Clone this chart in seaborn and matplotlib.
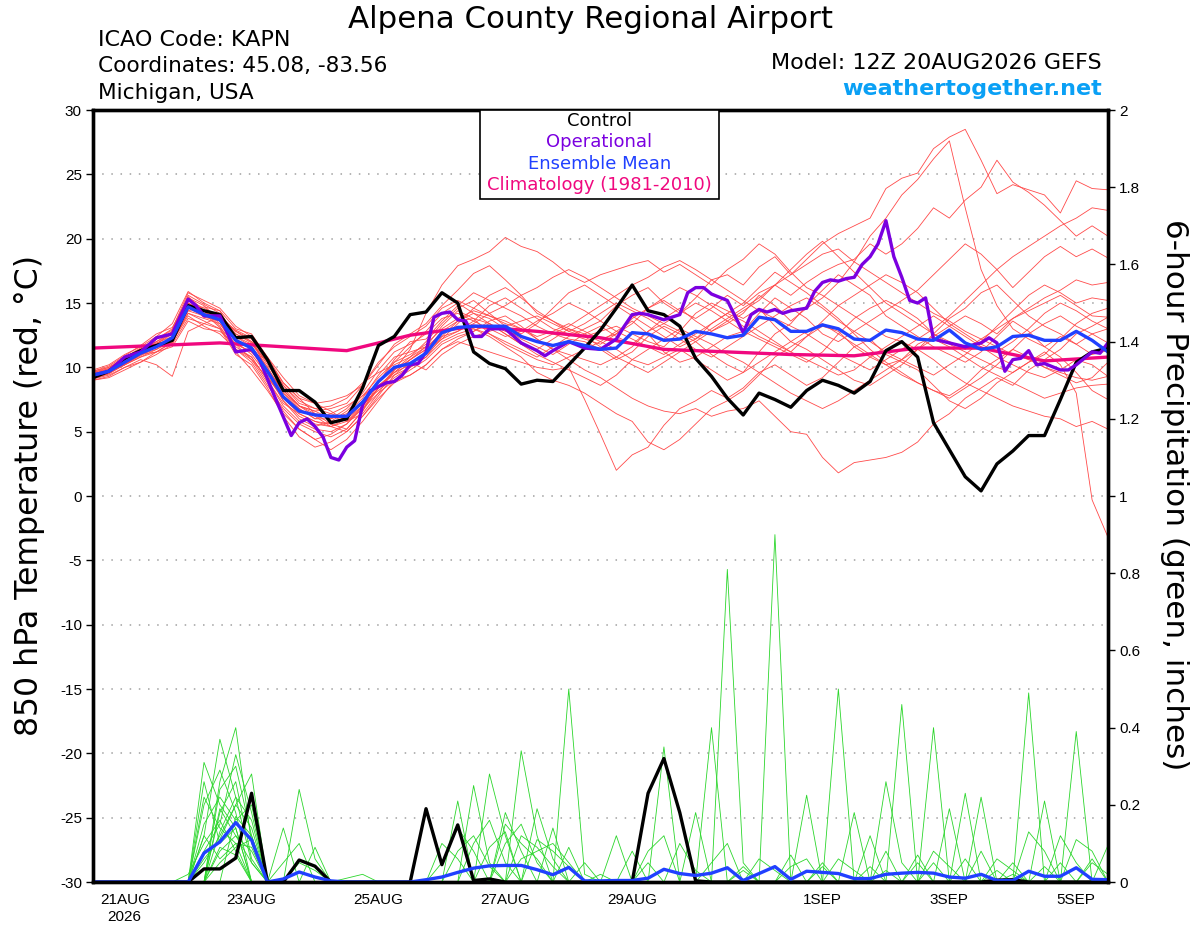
import pandas as pd
import matplotlib
matplotlib.use("Agg")
import matplotlib.pyplot as plt
from matplotlib.patches import Rectangle
import seaborn as sns

# --- Data: GEFS 6-hourly steps from 12Z 20AUG2026 (hours after run start) ---
hours = list(range(0, 385, 6))

# control run, 850 hPa temperature (C)
ctrl_temp = [9.2, 9.7, 10.7, 11.3, 11.7, 12.1, 14.8, 14.4, 14.1, 12.3,
             12.4, 10.6, 8.2, 8.2, 7.3, 5.7, 6.0, 8.4, 11.7, 12.4,
             14.1, 14.3, 15.8, 15.0, 11.2, 10.3, 9.9, 8.7, 9.0, 8.9,
             10.2, 11.5, 12.9, 14.6, 16.4, 14.4, 14.1, 13.2, 10.7, 9.3,
             7.6, 6.3, 8.0, 7.5, 6.9, 8.2, 9.0, 8.6, 8.0, 8.9,
             11.3, 12.0, 10.8, 5.7, 3.6, 1.5, 0.4, 2.5, 3.5, 4.7,
             4.7, 7.5, 10.4, 11.2, 11.5]

# ensemble mean temperature
mean_temp = [9.4, 9.7, 10.4, 11.1, 11.6, 12.3, 14.7, 14.1, 13.7, 12.1,
             11.5, 9.7, 7.7, 6.6, 6.3, 6.2, 6.2, 7.3, 8.9, 10.0,
             10.3, 11.1, 12.7, 13.1, 13.2, 13.2, 13.2, 12.4, 12.0, 11.7,
             12.0, 11.7, 11.4, 11.5, 12.7, 12.6, 12.1, 12.2, 12.8, 12.6,
             12.3, 12.5, 13.9, 13.7, 12.8, 12.8, 13.3, 13.0, 12.2, 12.1,
             12.9, 12.7, 12.2, 12.1, 12.9, 11.9, 11.4, 11.6, 12.4, 12.5,
             12.1, 12.1, 12.8, 12.1, 11.2]

# operational run is 3-hourly
op_hours = [0, 6, 12, 18, 24, 30, 36, 39, 42, 48, 54, 60, 63, 69, 75, 78, 81, 84,
            87, 90, 93, 96, 99, 102, 105, 108, 111, 114, 117, 120, 123, 126, 129,
            132, 135, 138, 141, 144, 147, 150, 156, 162, 168, 171, 174, 180, 186,
            192, 198, 201, 204, 207, 210, 216, 222, 225, 228, 231, 234, 240, 246,
            249, 252, 255, 258, 261, 264, 270, 273, 276, 279, 282, 285, 288, 291,
            294, 297, 300, 303, 306, 309, 312, 315, 318, 324, 330, 336, 339, 342,
            345, 348, 351, 354, 357, 360, 366, 369, 372, 378, 381, 384]
op_temp = [9.4, 9.7, 10.8, 11.2, 12.3, 12.6, 15.3, 14.8, 14.0, 14.0, 11.2, 11.4, 10.6,
           7.6, 4.7, 5.7, 6.0, 5.4, 4.6, 3.0, 2.8, 3.8, 4.3, 7.1, 8.2, 8.5, 8.8, 8.9,
           9.4, 10.2, 10.3, 11.2, 13.9, 14.2, 14.3, 13.7, 13.6, 12.4, 12.4, 13.0, 13.0,
           11.9, 11.3, 10.9, 11.3, 12.0, 11.5, 11.4, 12.2, 13.2, 14.1, 14.2, 14.1, 13.7,
           14.1, 15.8, 16.2, 16.2, 15.7, 15.2, 12.7, 14.1, 14.5, 14.3, 14.5, 14.2, 14.4,
           14.6, 15.9, 16.6, 16.8, 16.7, 16.9, 17.0, 18.0, 18.6, 19.6, 21.4, 18.6, 17.0,
           15.2, 15.0, 15.4, 12.2, 11.9, 11.6, 11.9, 12.3, 11.9, 9.7, 10.6, 10.7, 11.3,
           10.2, 10.3, 9.8, 9.8, 10.2, 11.2, 11.1, 11.9]

# 1981-2010 climatology (daily)
clim_hours = list(range(0, 385, 24))
clim_temp = [11.5, 11.7, 11.9, 11.6, 11.3, 12.5, 13.2, 12.8, 12.3,
             11.4, 11.2, 11.0, 10.9, 11.5, 11.5, 10.5, 10.8]

# ensemble members, temperature
red01 = [9.6, 10.0, 10.6, 11.4, 12.0, 12.6, 15.2, 14.6, 14.0, 12.8, 12.0,
         10.2, 8.4, 7.0, 6.6, 6.0, 6.8, 8.0, 9.8, 11.2, 11.8,
         12.6, 13.8, 14.2, 13.6, 13.0, 12.4, 12.8, 13.6, 14.2, 15.0,
         14.4, 13.6, 14.8, 15.6, 16.2, 15.0, 14.2, 15.4, 16.8, 17.2,
         16.4, 17.8, 18.6, 17.2, 18.4, 19.6, 20.4, 21.0, 21.6, 23.9,
         24.7, 25.1, 27.0, 27.9, 28.5, 26.1, 23.5, 24.2, 23.8, 23.4,
         22.0, 24.5, 23.9, 23.8]
red02 = [9.2, 9.5, 10.2, 10.8, 11.4, 12.0, 14.2, 13.8, 13.4, 11.6, 10.8,
         9.0, 7.0, 5.8, 5.2, 5.0, 5.6, 6.8, 8.4, 9.6, 10.6,
         11.4, 12.8, 13.6, 14.2, 13.8, 13.0, 12.2, 11.6, 11.0, 11.8,
         12.6, 13.2, 12.4, 11.8, 12.8, 13.8, 14.6, 13.6, 12.8, 13.4,
         14.2, 15.6, 14.8, 13.6, 14.6, 15.4, 16.6, 18.2, 20.2, 21.6,
         23.4, 24.6, 26.2, 27.6, 22.4, 17.6, 14.8, 13.0, 12.2, 11.6,
         12.4, 11.8, 12.6, 13.0]
red03 = [9.5, 9.9, 10.5, 11.2, 11.8, 12.8, 15.6, 14.9, 14.2, 12.6, 11.9,
         10.0, 8.0, 7.0, 6.6, 6.8, 7.2, 8.6, 10.4, 11.6, 12.4,
         13.2, 14.6, 15.2, 14.6, 14.0, 13.4, 13.0, 12.4, 12.8, 13.4,
         12.8, 12.2, 12.6, 13.4, 14.6, 15.2, 14.4, 13.8, 14.6, 15.6,
         14.8, 15.8, 16.4, 15.6, 16.6, 17.4, 18.0, 18.4, 19.6, 18.8,
         19.6, 20.8, 22.4, 21.6, 23.0, 24.0, 26.1, 24.4, 23.6, 22.6,
         21.4, 20.2, 21.0, 20.2]
red04 = [9.0, 9.3, 10.0, 10.6, 10.2, 9.3, 12.8, 13.4, 13.0, 11.0, 10.2,
         8.4, 6.2, 4.6, 3.8, 4.2, 5.0, 6.2, 7.6, 8.8, 9.4,
         10.2, 11.4, 12.0, 11.6, 11.2, 10.8, 10.4, 10.0, 9.8, 10.0,
         7.5, 4.8, 2.0, 3.2, 3.8, 5.5, 6.8, 7.4, 8.2, 7.6,
         8.4, 9.6, 10.2, 9.4, 8.6, 9.2, 10.4, 11.6, 12.2, 11.0,
         10.4, 9.8, 8.6, 7.4, 6.8, 7.6, 8.8, 9.6, 10.4, 11.2,
         10.2, 8.0, -0.3, -3.2]
red05 = [9.8, 10.2, 11.0, 11.6, 12.4, 13.4, 15.9, 15.0, 14.4, 13.0, 12.6,
         10.8, 9.2, 7.8, 7.2, 6.6, 5.8, 6.4, 8.0, 9.8, 11.4,
         14.2, 16.4, 17.9, 18.4, 19.0, 20.1, 19.4, 19.0, 18.2, 17.2,
         16.6, 17.2, 17.6, 18.0, 18.3, 17.4, 18.0, 17.2, 16.4, 17.6,
         18.4, 19.6, 18.8, 17.4, 16.2, 15.6, 14.8, 14.0, 13.2, 12.4,
         12.0, 11.4, 10.6, 9.6, 8.8, 8.2, 7.6, 7.0, 6.6, 6.2,
         6.0, 5.4, 5.8, 5.2]
red06 = [9.3, 9.6, 10.3, 11.0, 11.4, 12.2, 14.6, 14.4, 13.2, 11.2, 9.8,
         8.2, 6.4, 5.2, 4.4, 3.6, 4.4, 5.8, 7.4, 9.0, 9.8,
         10.6, 11.8, 12.4, 12.8, 13.6, 14.0, 13.2, 12.2, 11.4, 10.6,
         9.8, 9.2, 8.4, 7.6, 7.0, 6.6, 6.4, 6.8, 6.2, 6.6,
         6.8, 7.4, 6.2, 5.0, 4.8, 3.0, 1.8, 2.6, 2.8, 3.0,
         3.4, 4.2, 5.6, 6.4, 7.6, 8.4, 9.2, 8.6, 9.8, 10.6,
         11.4, 12.6, 13.2, 13.9]
red07 = [9.4, 9.8, 10.8, 11.4, 11.9, 12.4, 14.8, 13.9, 13.6, 12.4, 11.8,
         10.4, 8.6, 7.4, 6.8, 7.0, 7.6, 8.8, 9.6, 10.2, 10.8,
         11.6, 13.2, 14.4, 13.8, 12.6, 11.8, 11.2, 10.6, 10.2, 10.8,
         11.4, 12.0, 12.8, 13.6, 12.6, 11.2, 10.4, 10.8, 11.6, 12.4,
         12.8, 14.2, 15.4, 14.6, 13.8, 12.6, 12.0, 12.8, 13.6, 14.4,
         15.2, 16.0, 17.2, 18.4, 19.6, 18.8, 17.6, 16.2, 17.4, 18.6,
         19.4, 18.6, 19.2, 18.5]
red08 = [9.1, 9.4, 10.0, 10.4, 11.0, 11.8, 13.8, 13.4, 13.9, 12.9, 12.3,
         9.6, 7.4, 6.2, 5.6, 5.4, 6.0, 7.2, 8.2, 9.2, 10.0,
         10.8, 12.0, 12.6, 13.0, 12.4, 11.6, 10.8, 9.6, 9.0, 8.6,
         8.0, 7.2, 6.4, 5.8, 4.2, 3.6, 4.4, 5.6, 6.8, 7.4,
         8.2, 9.4, 10.8, 11.6, 12.4, 13.2, 12.8, 11.6, 10.8, 10.2,
         10.6, 11.8, 12.4, 13.2, 14.0, 13.4, 12.6, 13.8, 14.6, 15.4,
         16.0, 16.8, 16.4, 16.6]
red09 = [9.7, 10.1, 10.9, 11.7, 12.6, 13.1, 15.4, 14.2, 13.1, 11.8, 11.2,
         10.6, 8.8, 7.6, 6.4, 5.6, 5.2, 6.6, 8.8, 10.6, 12.0,
         12.2, 13.6, 14.8, 15.8, 15.2, 14.6, 14.0, 13.2, 12.6, 12.2,
         12.0, 11.4, 10.6, 11.2, 12.4, 13.2, 12.6, 12.0, 11.0, 10.2,
         9.6, 11.2, 12.6, 13.4, 14.8, 16.0, 17.2, 16.4, 15.6, 14.0,
         13.2, 12.4, 11.6, 11.0, 10.4, 11.2, 12.4, 13.6, 12.8, 11.6,
         10.8, 9.6, 8.2, 7.5]
red10 = [9.5, 9.6, 10.2, 11.0, 11.2, 11.9, 14.4, 14.7, 14.4, 12.2, 11.4,
         9.2, 7.8, 6.8, 6.0, 6.4, 7.0, 7.8, 8.6, 9.4, 10.4,
         9.8, 11.0, 11.8, 12.4, 12.8, 13.2, 13.6, 14.0, 13.4, 12.8,
         12.4, 12.8, 13.2, 12.6, 12.0, 11.6, 12.8, 14.2, 15.0, 14.4,
         13.8, 14.6, 13.2, 12.0, 11.4, 10.6, 9.8, 9.0, 8.6, 9.4,
         10.2, 11.4, 12.6, 13.8, 14.6, 15.8, 16.4, 15.2, 14.0, 13.2,
         12.6, 11.8, 11.0, 11.3]
red11 = [9.3, 9.7, 10.6, 11.3, 11.6, 12.2, 15.0, 14.4, 13.8, 12.0, 11.0,
         9.4, 7.4, 6.0, 5.4, 5.8, 6.6, 7.8, 9.2, 10.4, 11.0,
         11.8, 13.0, 13.8, 14.4, 14.0, 13.6, 13.0, 12.2, 11.4, 11.0,
         10.6, 10.2, 10.8, 11.6, 12.8, 13.4, 14.2, 15.0, 14.4, 13.6,
         12.8, 12.2, 11.6, 11.0, 10.4, 11.2, 12.6, 13.8, 14.6, 15.2,
         14.6, 13.8, 12.6, 11.8, 11.2, 10.6, 10.0, 9.6, 10.4, 11.0,
         12.2, 13.4, 14.2, 14.6]
red12 = [9.6, 9.9, 10.4, 11.0, 11.8, 12.6, 15.4, 14.8, 13.6, 11.4, 10.4,
         8.6, 6.8, 5.6, 5.0, 4.6, 5.2, 6.6, 8.4, 9.8, 10.8,
         12.0, 13.4, 14.6, 15.2, 14.2, 13.2, 12.6, 13.4, 14.6, 15.8,
         16.4, 15.6, 14.8, 14.0, 13.2, 12.4, 11.6, 12.2, 13.4, 14.2,
         13.6, 12.8, 12.0, 11.2, 10.6, 10.0, 9.4, 9.8, 10.8, 11.6,
         12.4, 13.2, 14.0, 13.2, 12.4, 11.6, 10.8, 10.2, 9.6, 9.2,
         9.8, 10.6, 10.2, 9.3]
red13 = [9.0, 9.2, 9.8, 10.4, 11.2, 12.0, 14.0, 13.2, 12.6, 11.4, 10.6,
         9.2, 7.6, 6.4, 5.8, 5.6, 6.2, 7.4, 8.6, 9.6, 10.6,
         11.6, 12.4, 12.8, 13.6, 14.8, 15.4, 14.6, 13.8, 13.0, 12.6,
         12.2, 11.8, 12.6, 13.8, 14.6, 15.4, 16.2, 15.6, 14.8, 14.0,
         13.2, 12.4, 11.8, 11.2, 12.4, 13.6, 14.8, 15.6, 16.4, 17.2,
         16.6, 15.8, 14.6, 13.4, 12.6, 11.8, 11.2, 12.0, 13.0, 14.2,
         15.0, 14.4, 13.6, 13.0]
red14 = [9.4, 9.8, 10.4, 11.2, 12.2, 13.0, 15.8, 15.2, 14.6, 13.2, 12.4,
         10.8, 8.8, 7.6, 7.2, 7.4, 7.8, 8.6, 10.2, 11.8, 12.6,
         13.4, 14.8, 16.0, 17.3, 17.9, 16.8, 15.6, 14.2, 13.6, 13.0,
         12.4, 11.6, 10.8, 10.2, 9.6, 10.4, 11.2, 12.0, 12.8, 13.6,
         14.4, 15.2, 16.4, 17.2, 18.0, 18.8, 19.2, 18.2, 17.4, 16.6,
         15.8, 15.0, 14.2, 13.6, 12.8, 12.2, 11.6, 11.0, 10.6, 10.0,
         9.4, 8.8, 9.2, 10.4]
red15 = [9.2, 9.6, 10.2, 10.8, 11.2, 11.6, 13.6, 13.0, 12.8, 11.8, 11.2,
         9.8, 8.2, 7.0, 6.4, 6.2, 5.8, 6.8, 8.0, 9.0, 9.4,
         10.2, 11.4, 12.2, 12.8, 13.4, 12.6, 11.8, 11.0, 10.4, 9.8,
         9.2, 8.6, 9.4, 10.6, 11.4, 12.2, 13.0, 12.4, 11.8, 11.0,
         10.4, 9.6, 8.8, 8.0, 7.4, 6.8, 7.4, 8.2, 9.0, 9.8,
         10.6, 11.4, 12.2, 11.6, 10.8, 10.0, 9.4, 8.8, 8.2, 7.6,
         8.0, 8.4, 8.6, 8.7]
red16 = [9.5, 9.8, 10.5, 11.4, 12.0, 12.8, 15.0, 14.2, 14.0, 12.8, 12.2,
         10.6, 8.6, 7.2, 6.8, 6.4, 6.0, 7.0, 8.4, 9.6, 10.2,
         11.0, 12.2, 13.4, 14.6, 15.6, 16.2, 15.4, 14.4, 13.6, 12.8,
         13.4, 14.2, 15.0, 14.4, 13.8, 13.0, 12.2, 11.4, 10.8, 11.6,
         12.4, 13.2, 14.0, 14.8, 15.4, 14.6, 13.6, 12.8, 12.0, 11.2,
         10.6, 10.0, 9.4, 10.2, 11.0, 12.0, 13.2, 14.4, 15.6, 16.4,
         15.8, 15.0, 15.4, 15.2]
red17 = [9.1, 9.5, 10.3, 10.9, 11.6, 12.4, 14.4, 14.0, 13.6, 12.4, 11.6,
         10.0, 8.0, 6.8, 6.0, 6.0, 6.4, 7.6, 9.4, 10.8, 11.2,
         11.6, 12.6, 13.2, 13.0, 12.6, 12.0, 11.4, 10.8, 11.6, 12.4,
         13.0, 13.6, 12.8, 12.2, 11.6, 11.0, 11.8, 12.6, 13.4, 14.2,
         15.0, 16.2, 17.4, 16.6, 15.8, 14.8, 13.8, 12.6, 11.4, 10.4,
         9.6, 8.8, 8.2, 7.6, 8.4, 9.2, 10.2, 11.4, 12.6, 13.4,
         14.0, 13.2, 12.6, 11.9]
red18 = [9.7, 10.0, 10.8, 11.5, 12.2, 12.9, 15.5, 14.4, 13.4, 11.8, 10.6,
         8.8, 6.6, 5.2, 4.4, 4.8, 5.6, 7.0, 8.8, 10.4, 11.6,
         12.8, 14.2, 15.0, 14.2, 13.4, 12.8, 12.4, 12.0, 12.6, 13.2,
         14.0, 14.8, 15.6, 16.4, 17.0, 17.8, 18.3, 17.6, 16.8, 16.0,
         15.2, 14.4, 13.8, 13.2, 12.6, 11.8, 11.0, 10.4, 9.8, 10.6,
         11.4, 12.2, 13.0, 14.0, 15.2, 16.4, 17.6, 18.6, 19.4, 20.2,
         21.0, 21.6, 22.4, 22.2]
red19 = [9.4, 9.6, 10.2, 11.0, 11.6, 12.0, 14.6, 14.0, 13.8, 12.6, 12.0,
         10.4, 8.2, 7.0, 6.2, 5.4, 5.0, 6.2, 7.8, 9.4, 10.0,
         10.8, 12.4, 13.6, 13.8, 13.4, 12.6, 11.8, 11.4, 12.2, 13.0,
         12.6, 12.0, 11.4, 10.6, 10.2, 10.8, 11.4, 10.6, 9.8, 9.0,
         9.6, 10.4, 11.2, 12.0, 12.8, 13.4, 12.6, 11.8, 11.0, 10.2,
         9.4, 8.8, 8.2, 7.8, 8.6, 9.8, 10.6, 11.4, 10.8, 10.0,
         9.6, 9.2, 9.0, 9.3]
red20 = [9.3, 9.8, 10.6, 11.2, 11.6, 12.0, 14.2, 13.6, 13.0, 11.4, 10.8,
         9.0, 7.2, 6.4, 5.8, 5.4, 5.8, 7.0, 8.4, 9.8, 10.6,
         11.4, 12.2, 12.8, 13.4, 14.2, 14.8, 15.6, 16.2, 17.0, 17.6,
         17.0, 16.2, 15.4, 14.6, 14.0, 13.4, 12.8, 12.2, 13.0, 13.8,
         14.6, 15.4, 16.4, 17.6, 18.8, 19.8, 18.6, 17.4, 16.2, 15.0,
         14.2, 13.4, 12.6, 12.0, 11.4, 12.2, 13.0, 13.8, 14.4, 15.0,
         15.6, 14.8, 14.0, 13.9]
temp_members = [red01, red02, red03, red04, red05, red06, red07, red08, red09, red10,
                red11, red12, red13, red14, red15, red16, red17, red18, red19, red20]

# 6-hour precipitation (inches)
ctrl_precip = [0, 0, 0, 0, 0, 0, 0, 0.034, 0.034, 0.062, 0.23,
               0, 0, 0.057, 0.041, 0, 0, 0, 0, 0, 0,
               0.19, 0.045, 0.148, 0.004, 0.008, 0, 0, 0, 0, 0,
               0, 0, 0, 0, 0.23, 0.32, 0.18, 0.003, 0, 0,
               0, 0, 0, 0, 0, 0, 0, 0, 0, 0,
               0, 0, 0, 0, 0, 0, 0.005, 0.006, 0, 0,
               0, 0, 0, 0]
mean_precip = [0, 0, 0, 0, 0, 0, 0, 0.075, 0.104, 0.154, 0.109,
               0, 0.008, 0.026, 0.013, 0.003, 0, 0, 0, 0, 0,
               0.006, 0.013, 0.025, 0.036, 0.042, 0.043, 0.043, 0.032, 0.019, 0.038,
               0.003, 0.003, 0.004, 0.004, 0.01, 0.033, 0.022, 0.017, 0.023, 0.037,
               0.004, 0.022, 0.04, 0.007, 0.028, 0.025, 0.022, 0.009, 0.009, 0.02,
               0.023, 0.025, 0.023, 0.013, 0.01, 0.02, 0.004, 0.004, 0.028, 0.015,
               0.015, 0.037, 0.007, 0.006]

# members: step index -> precip, all other steps dry
grn01 = {7: 0.12, 8: 0.37, 9: 0.22, 10: 0.05, 27: 0.34, 28: 0.12, 40: 0.81, 41: 0.05, 59: 0.49}
grn02 = {7: 0.31, 8: 0.20, 9: 0.14, 13: 0.24, 14: 0.06, 30: 0.50, 31: 0.02, 43: 0.90, 52: 0.05}
grn03 = {8: 0.26, 9: 0.40, 10: 0.10, 16: 0.01, 17: 0.02, 25: 0.28, 26: 0.12, 47: 0.50, 62: 0.39}
grn04 = {7: 0.08, 8: 0.15, 9: 0.33, 10: 0.18, 12: 0.14, 36: 0.35, 51: 0.46}
grn05 = {7: 0.05, 8: 0.12, 9: 0.20, 10: 0.28, 24: 0.25, 25: 0.05, 53: 0.40, 63: 0.06}
grn06 = {7: 0.20, 8: 0.29, 9: 0.18, 23: 0.21, 39: 0.40, 50: 0.26, 51: 0.05}
grn07 = {7: 0.22, 8: 0.14, 9: 0.10, 28: 0.19, 29: 0.06, 38: 0.18, 55: 0.23, 64: 0.095}
grn08 = {8: 0.24, 9: 0.30, 10: 0.12, 29: 0.14, 45: 0.225, 56: 0.22, 60: 0.21}
grn09 = {8: 0.18, 9: 0.26, 10: 0.06, 22: 0.10, 23: 0.06, 33: 0.12, 48: 0.18, 54: 0.19}
grn10 = {7: 0.15, 8: 0.22, 9: 0.16, 10: 0.20, 14: 0.09, 26: 0.18, 27: 0.08, 49: 0.12,
         57: 0.06, 58: 0.03}
grn11 = {8: 0.19, 9: 0.12, 10: 0.08, 31: 0.05, 34: 0.08, 44: 0.04, 45: 0.06, 61: 0.12, 62: 0.05}
grn12 = {7: 0.26, 8: 0.10, 9: 0.14, 26: 0.15, 27: 0.10, 28: 0.06, 41: 0.03, 50: 0.08, 58: 0.05}
grn13 = {8: 0.13, 9: 0.22, 10: 0.16, 12: 0.05, 13: 0.10, 25: 0.09, 26: 0.13, 35: 0.05,
         46: 0.04, 53: 0.08, 54: 0.04}
grn14 = {9: 0.17, 10: 0.12, 27: 0.12, 28: 0.09, 29: 0.04, 37: 0.10, 38: 0.03, 52: 0.07,
         59: 0.13, 60: 0.08}
grn15 = {6: 0.02, 7: 0.10, 8: 0.16, 9: 0.08, 24: 0.10, 25: 0.16, 26: 0.05, 42: 0.06,
         43: 0.03, 56: 0.08, 62: 0.11, 63: 0.08}
grn16 = {8: 0.08, 9: 0.12, 10: 0.05, 22: 0.05, 23: 0.14, 24: 0.08, 30: 0.09, 47: 0.06,
         48: 0.03, 61: 0.05}
grn17 = {7: 0.06, 8: 0.11, 9: 0.20, 10: 0.14, 13: 0.05, 14: 0.03, 28: 0.11, 29: 0.08,
         30: 0.04, 39: 0.05, 40: 0.10, 55: 0.06}
grn18 = {8: 0.09, 9: 0.07, 26: 0.10, 27: 0.15, 28: 0.05, 35: 0.08, 36: 0.12, 49: 0.04,
         57: 0.03, 63: 0.05, 64: 0.02}
grn19 = {7: 0.12, 8: 0.06, 9: 0.10, 10: 0.09, 23: 0.08, 24: 0.12, 25: 0.04, 32: 0.02,
         44: 0.07, 53: 0.05, 60: 0.04}
grn20 = {8: 0.05, 9: 0.09, 10: 0.11, 27: 0.06, 28: 0.08, 29: 0.10, 30: 0.05, 41: 0.04,
         46: 0.05, 50: 0.03, 58: 0.02}
precip_members = [grn01, grn02, grn03, grn04, grn05, grn06, grn07, grn08, grn09, grn10,
                  grn11, grn12, grn13, grn14, grn15, grn16, grn17, grn18, grn19, grn20]

date_ticks = [12, 60, 108, 156, 204, 276, 324, 372]
date_labels = ["21AUG\n2026", "23AUG", "25AUG", "27AUG", "29AUG", "1SEP", "3SEP", "5SEP"]
temp_ticks = list(range(-30, 31, 5))
precip_ticks = [0, 0.2, 0.4, 0.6, 0.8, 1.0, 1.2, 1.4, 1.6, 1.8, 2.0]
precip_labels = ["0", "0.2", "0.4", "0.6", "0.8", "1", "1.2", "1.4", "1.6", "1.8", "2"]

legend_labels = ["Control", "Operational", "Ensemble Mean", "Climatology (1981-2010)"]
legend_colors = ["black", "#7b00e0", "#2040ff", "#f0087f"]

# --- long-form tables for seaborn ---
temp_df = pd.DataFrame([(m, h, v) for m, vals in enumerate(temp_members)
                        for h, v in zip(hours, vals)], columns=["member", "hour", "temp"])
precip_df = pd.DataFrame([(m, h, d.get(i, 0.0)) for m, d in enumerate(precip_members)
                          for i, h in enumerate(hours)], columns=["member", "hour", "precip"])

# --- plotting ---
sns.set_style("white")
plt.rcParams["font.family"] = ["Liberation Sans", "DejaVu Sans"]
for key in ("text.color", "axes.labelcolor", "xtick.color", "ytick.color"):
    plt.rcParams[key] = "black"
wide = ["DejaVu Sans"]   # the header font in the source image is a wide sans

fig = plt.figure(figsize=(12, 9.27), dpi=100)
ax = fig.add_axes([0.0775, 0.0485, 0.8458, 0.8328])
ax2 = ax.twinx()

sns.lineplot(data=temp_df, x="hour", y="temp", units="member", estimator=None,
             color="#ff4a4a", lw=0.6, ax=ax, legend=False)
sns.lineplot(x=clim_hours, y=clim_temp, color=legend_colors[3], lw=2.4, ax=ax)
sns.lineplot(x=hours, y=ctrl_temp, color="black", lw=2.4, ax=ax)
sns.lineplot(x=op_hours, y=op_temp, color=legend_colors[1], lw=2.4, ax=ax)
sns.lineplot(x=hours, y=mean_temp, color=legend_colors[2], lw=2.4, ax=ax)

sns.lineplot(data=precip_df, x="hour", y="precip", units="member", estimator=None,
             color="#2bd62b", lw=0.6, ax=ax2, legend=False)
sns.lineplot(x=hours, y=ctrl_precip, color="black", lw=2.4, ax=ax2)
sns.lineplot(x=hours, y=mean_precip, color=legend_colors[2], lw=2.4, ax=ax2)

ax.set_xlim(0, 384)
ax.set_ylim(-30, 30)
ax2.set_ylim(0, 2)
ax.set_xticks(date_ticks)
ax.set_xticklabels(date_labels, fontsize=11, linespacing=1.25)
ax.set_yticks(temp_ticks)
ax.set_yticklabels([str(t) for t in temp_ticks], fontsize=11)
ax2.set_yticks(precip_ticks)
ax2.set_yticklabels(precip_labels, fontsize=11)
for a in (ax, ax2):
    a.set_xlabel("")
    a.set_ylabel("")
    a.tick_params(direction="out", length=5, width=1, color="black", pad=3)
    for sp in a.spines.values():
        sp.set_linewidth(2.4)
        sp.set_color("black")
ax.grid(False)
ax2.grid(False)
ax.yaxis.grid(True, linestyle=(0, (1, 5)), color="#a0a0a0", lw=1.1)

# legend box with centred, coloured text
ax2.add_patch(Rectangle((0.3813, 0.8847), 0.2355, 0.1153, transform=ax2.transAxes,
                        facecolor="white", edgecolor="black", lw=1.2, zorder=10))
for k, (lab, col) in enumerate(zip(legend_labels, legend_colors)):
    ax2.text(0.4990, 0.9858 - k * 0.0276, lab, color=col, fontsize=13, ha="center",
             va="center", transform=ax2.transAxes, zorder=11, family=wide)

# header texts and axis titles
fig.text(0.4917, 0.9795, "Alpena County Regional Airport", ha="center", va="center",
         fontsize=22.2, family=wide)
fig.text(0.0817, 0.9568, "ICAO Code: KAPN", ha="left", va="center", fontsize=16, family=wide)
fig.text(0.0817, 0.9288, "Coordinates: 45.08, -83.56", ha="left", va="center", fontsize=15.6,
         family=wide)
fig.text(0.0817, 0.8997, "Michigan, USA", ha="left", va="center", fontsize=15.6, family=wide)
fig.text(0.9183, 0.9320, "Model: 12Z 20AUG2026 GEFS", ha="right", va="center", fontsize=16,
         family=wide)
fig.text(0.9183, 0.9040, "weathertogether.net", ha="right", va="center", fontsize=16,
         fontweight="bold", color="#0aa0f5", family=wide)
fig.text(0.025, 0.466, "850 hPa Temperature (red, \u00b0C)", rotation=90, ha="center",
         va="center", fontsize=22.7, family=wide)
fig.text(0.979, 0.466, "6-hour Precipitation (green, inches)", rotation=270, ha="center",
         va="center", fontsize=22.4, family=wide)

fig.savefig("out.png", dpi=100)
